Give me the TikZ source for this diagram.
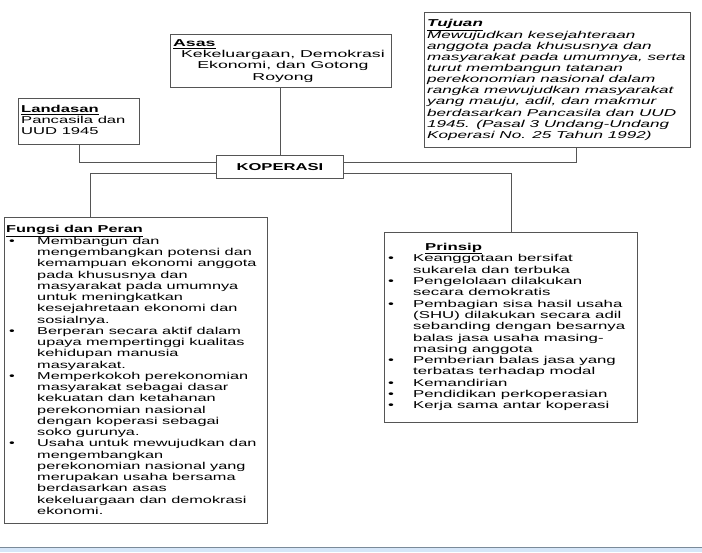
\documentclass[tikz,border=0pt]{standalone}
\usepackage{fontspec}
\setmainfont{Liberation Sans}[FakeStretch=1.66]
\newfontfamily\fungsifont{Liberation Sans}[FakeStretch=1.63]
\newfontfamily\tujuanfont{Liberation Sans}[FakeStretch=1.71]
\newfontfamily\asasfont{Liberation Sans}[FakeStretch=1.77]
\newfontfamily\prinsipfont{Liberation Sans}[FakeStretch=1.68]
\definecolor{bandblue}{HTML}{D6E6F8}
\definecolor{bandline}{HTML}{7A8A99}
\definecolor{linegray}{HTML}{555555}
\begin{document}
\begin{tikzpicture}[x=1pt,y=1pt,
  box/.style={draw=linegray, line width=0.9pt, anchor=north west, inner sep=0pt, fill=white},
  txt/.style={anchor=base west, inner sep=0pt, font=\fontsize{10}{11.2}\selectfont},
  link/.style={draw=linegray, line width=0.9pt}]
\useasboundingbox (0,0) rectangle (702,-552);
\fill[white] (0,0) rectangle (702,-552);
% bottom band
\fill[bandblue] (0,-547) rectangle (702,-552);
\draw[bandline, line width=0.8pt] (0,-547) -- (702,-547);

% boxes
\node[box, minimum width=121pt, minimum height=46pt] (land) at (18,-98) {};
\node[box, minimum width=221pt, minimum height=53pt] (asas) at (170,-34) {};
\node[box, minimum width=266pt, minimum height=135pt] (tuj) at (424,-12) {};
\node[box, minimum width=127pt, minimum height=23pt, font=\bfseries\fontsize{10}{12}\selectfont] (kop) at (216,-155) {KOPERASI};
\node[box, minimum width=263pt, minimum height=306pt] (fung) at (4,-217) {};
\node[box, minimum width=253pt, minimum height=190pt] (prin) at (384,-232) {};

% connectors
\draw[link] (land.south) |- ([yshift=4.5pt]kop.west);
\draw[link] (asas.south -| kop.north) -- (kop.north);
\draw[link] ([xshift=19pt]tuj.south) |- ([yshift=4.5pt]kop.east);
\draw[link] ([yshift=-6.5pt]kop.west) -| ([xshift=-45.5pt]fung.north);
\draw[link] ([yshift=-6.5pt]kop.east) -| (prin.north);

% Landasan text
\node[txt, font=\fontsize{10}{11}\selectfont] (landt) at (21,-112.5) {\begin{tabular}[t]{@{}l@{}}\underline{\textbf{Landasan}}\\Pancasila dan\\UUD 1945\end{tabular}};

% Asas text
\node[txt, font=\asasfont\fontsize{10}{11.3}\selectfont] (asast) at (173,-46.5) {\underline{\textbf{Asas}}};
\node[txt, anchor=base, font=\asasfont\fontsize{10}{11.3}\selectfont] (asasb) at (283,-57.5) {\begin{tabular}[t]{@{}c@{}}Kekeluargaan, Demokrasi\\Ekonomi, dan Gotong\\Royong\end{tabular}};

% Tujuan text
\node[txt, font=\tujuanfont\itshape\fontsize{10}{11.1}\selectfont] (tujt) at (427,-26.5) {\begin{tabular}[t]{@{}l@{}}\underline{\textbf{Tujuan}}\\
Mewujudkan kesejahteraan\\
anggota pada khususnya dan\\
masyarakat pada umumnya, serta\\
turut membangun tatanan\\
perekonomian nasional dalam\\
rangka mewujudkan masyarakat\\
yang mauju, adil, dan makmur\\
berdasarkan Pancasila dan UUD\\
1945. (Pasal 3 Undang-Undang\\
Koperasi No. 25 Tahun 1992)\end{tabular}};

% Fungsi text
\node[txt, font=\fungsifont\fontsize{10}{11.25}\selectfont] (fungt) at (6,-232.5) {\begin{tabular}[t]{@{}p{31pt}@{}l@{}}
\multicolumn{2}{@{}l@{}}{\underline{\textbf{Fungsi dan Peran}}}\\
\hspace{3pt}\textbullet & Membangun dan\\
& mengembangkan potensi dan\\
& kemampuan ekonomi anggota\\
& pada khususnya dan\\
& masyarakat pada umumnya\\
& untuk meningkatkan\\
& kesejahretaan ekonomi dan\\
& sosialnya.\\
\hspace{3pt}\textbullet & Berperan secara aktif dalam\\
& upaya mempertinggi kualitas\\
& kehidupan manusia\\
& masyarakat.\\
\hspace{3pt}\textbullet & Memperkokoh perekonomian\\
& masyarakat sebagai dasar\\
& kekuatan dan ketahanan\\
& perekonomian nasional\\
& dengan koperasi sebagai\\
& soko gurunya.\\
\hspace{3pt}\textbullet & Usaha untuk mewujudkan dan\\
& mengembangkan\\
& perekonomian nasional yang\\
& merupakan usaha bersama\\
& berdasarkan asas\\
& kekeluargaan dan demokrasi\\
& ekonomi.
\end{tabular}};

% Prinsip text
\node[txt, font=\prinsipfont\fontsize{10}{11.3}\selectfont] (print) at (388,-250) {\begin{tabular}[t]{@{}p{25pt}@{}l@{}}
\multicolumn{2}{@{}l@{}}{\hspace{37pt}\underline{\textbf{Prinsip}}}\\
\textbullet & Keanggotaan bersifat\\
& sukarela dan terbuka\\
\textbullet & Pengelolaan dilakukan\\
& secara demokratis\\
\textbullet & Pembagian sisa hasil usaha\\
& (SHU) dilakukan secara adil\\
& sebanding dengan besarnya\\
& balas jasa usaha masing-\\
& masing anggota\\
\textbullet & Pemberian balas jasa yang\\
& terbatas terhadap modal\\
\textbullet & Kemandirian\\
\textbullet & Pendidikan perkoperasian\\
\textbullet & Kerja sama antar koperasi
\end{tabular}};
\end{tikzpicture}
\end{document}
